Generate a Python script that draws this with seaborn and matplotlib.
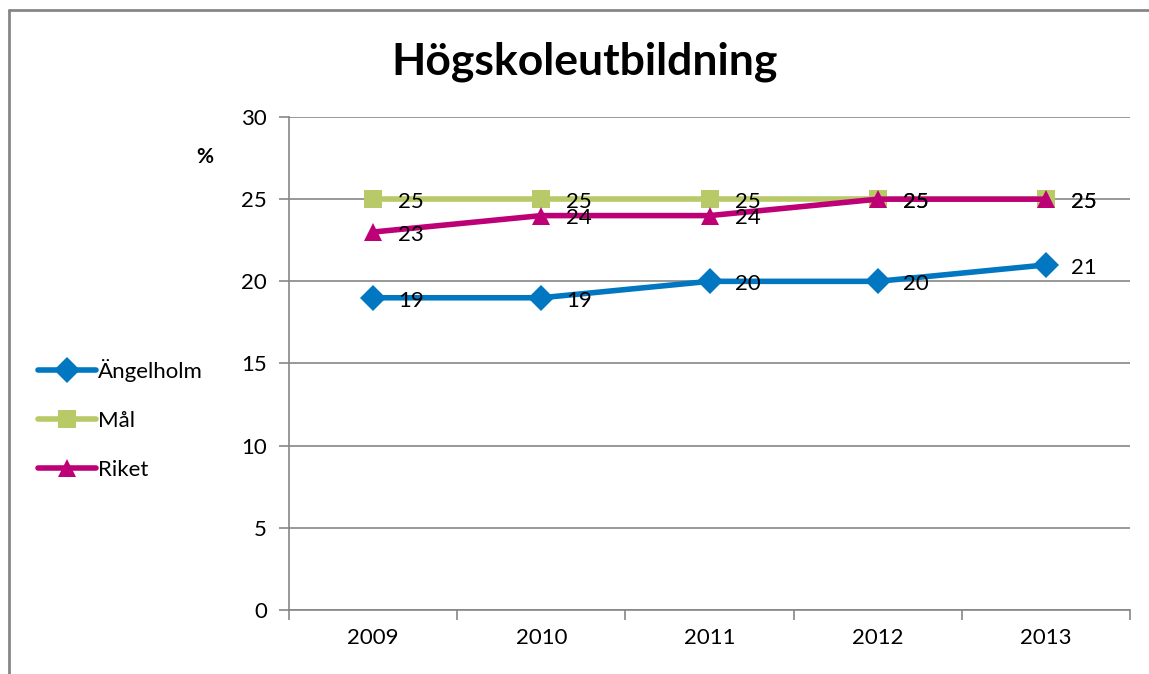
import matplotlib
matplotlib.use('Agg')
import matplotlib.pyplot as plt
import seaborn as sns
import pandas as pd
from matplotlib.lines import Line2D

years = ['2009', '2010', '2011', '2012', '2013']
angelholm = [19, 19, 20, 20, 21]
mal = [25, 25, 25, 25, 25]
riket = [23, 24, 24, 25, 25]

series = ['Ängelholm', 'Mål', 'Riket']
colors = ['#0077C0', '#B8C967', '#BE0077']
markers = ['D', 's', '^']

sns.set_theme(style='white')
plt.rcParams['font.family'] = ['Lato', 'DejaVu Sans']
plt.rcParams['text.color'] = 'black'
plt.rcParams['xtick.labelcolor'] = 'black'
plt.rcParams['ytick.labelcolor'] = 'black'

df = pd.DataFrame({'År': years * 3,
                   'Värde': angelholm + mal + riket,
                   'Serie': [s for s in series for _ in years]})

fig = plt.figure(figsize=(11.49, 6.74), dpi=100)
ax = fig.add_axes([0.2515, 0.095, 0.732, 0.7314])

sns.lineplot(data=df, x='År', y='Värde', hue='Serie', style='Serie',
             palette=colors, markers=markers, dashes=False, linewidth=4,
             markersize=13, markeredgewidth=0, ax=ax, legend=False, sort=False)

# data labels to the right of each point
for s, vals in zip(series, [angelholm, mal, riket]):
    for i, v in enumerate(vals):
        ax.annotate(str(v), (i, v), xytext=(18, -2), textcoords='offset points',
                    ha='left', va='center', fontsize=16, color='black')

ax.set_xlim(-0.5, 4.5)
ax.set_ylim(0, 30)
ax.set_yticks(range(0, 31, 5))
ax.set_xticks(range(5))
ax.set_xticklabels(years)
ax.set_xticks([x - 0.5 for x in range(6)], minor=True)
ax.tick_params(axis='x', which='major', length=0, pad=13, labelsize=16)
ax.tick_params(axis='x', which='minor', length=7, width=1.2, color='#868686', direction='out', bottom=True)
ax.tick_params(axis='y', length=7, width=1.2, color='#868686', direction='out', left=True, pad=9, labelsize=16)
ax.set_xlabel('')
ax.set_ylabel('')
ax.grid(axis='y', color='#868686', linewidth=1.2)
ax.set_axisbelow(True)
for sp in ['top', 'right']:
    ax.spines[sp].set_visible(False)
for sp in ['left', 'bottom']:
    ax.spines[sp].set_color('#868686')
    ax.spines[sp].set_linewidth(1.2)

fig.text(0.509, 0.908, 'Högskoleutbildning', ha='center', va='center',
         fontsize=32, fontweight='bold', color='black')
fig.text(0.178, 0.767, '%', ha='center', va='center', fontsize=15, fontweight='bold', color='black')

handles = [Line2D([], [], color=c, marker=m, linewidth=4, markersize=13, markeredgewidth=0)
           for c, m in zip(colors, markers)]
fig.legend(handles, series, loc='center left', bbox_to_anchor=(0.033, 0.378),
           frameon=False, fontsize=16, handlelength=2.6, handletextpad=0.1,
           labelspacing=1.3, borderaxespad=0, borderpad=0)

# outer chart border (top and left visible)
fig.add_artist(Line2D([0.0078, 1.0], [0.985, 0.985], color='#868686', linewidth=2))
fig.add_artist(Line2D([0.0078, 0.0078], [0.0, 0.985], color='#868686', linewidth=2))

fig.savefig('out.png', dpi=100)
